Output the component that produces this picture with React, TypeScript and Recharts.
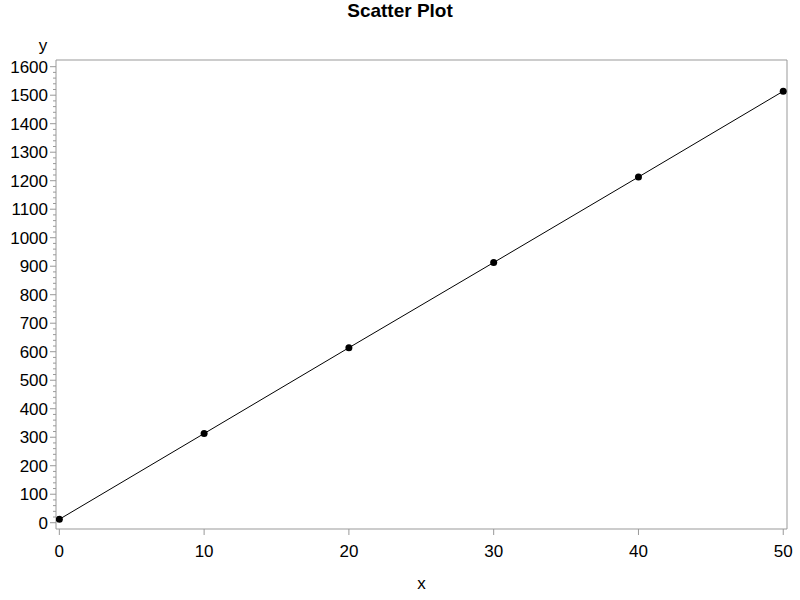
import { ComposedChart, Line, ReferenceArea, XAxis, YAxis } from "recharts";

const xValues = [0, 10, 20, 30, 40, 50];
const yValues = [12, 313, 614, 913, 1213, 1514];
const xTicks = [0, 10, 20, 30, 40, 50];
// majors every 100, minors every 20
const yTicks = Array.from({ length: 81 }, (_, i) => i * 20);

const data = xValues.map((x, i) => ({ x, y: yValues[i] }));

const W = 800;
const H = 600;
const PLOT_LEFT = 56;
const FRAME = "#999";
const FONT = "'Liberation Sans', Arial, sans-serif";
const FS = 17;

function YTick(props: any) {
  const { y, payload } = props;
  const major = payload.value % 100 === 0;
  return (
    <g>
      <line x1={PLOT_LEFT - (major ? 6 : 3)} x2={PLOT_LEFT} y1={y} y2={y} stroke={FRAME} />
      {major && (
        <text x={PLOT_LEFT - 8} y={y} dy="0.355em" textAnchor="end" fontSize={FS} fill="#000" fontFamily={FONT}>
          {payload.value}
        </text>
      )}
    </g>
  );
}

export default function App() {
  return (
    <div style={{ position: "absolute", left: 0, top: 0, width: W, height: H, background: "#fff" }}>
      <div
        style={{
          position: "absolute",
          left: 0,
          top: 1,
          width: W,
          textAlign: "center",
          fontFamily: FONT,
          fontWeight: "bold",
          fontSize: 19,
          lineHeight: "19px",
        }}
      >
        Scatter Plot
      </div>
      <ComposedChart width={W} height={H} data={data} margin={{ top: 60, right: 13, left: 0, bottom: 0 }}>
        <ReferenceArea x1={-0.23} x2={50.26} y1={-22} y2={1623.5} stroke={FRAME} fill="none" strokeOpacity={1} ifOverflow="extendDomain" />
        <XAxis
          type="number"
          dataKey="x"
          domain={[-0.23, 50.26]}
          ticks={xTicks}
          allowDataOverflow
          axisLine={false}
          tickLine={{ stroke: FRAME }}
          tickSize={6}
          tickMargin={10}
          height={71}
          tick={{ fontSize: FS, fill: "#000", fontFamily: FONT }}
          label={{
            content: (p: any) => (
              <text
                x={p.viewBox.x + p.viewBox.width / 2}
                y={589}
                textAnchor="middle"
                fontSize={FS}
                fontFamily={FONT}
                fill="#000"
              >
                x
              </text>
            ),
          }}
        />
        <YAxis
          type="number"
          dataKey="y"
          domain={[-22, 1623.5]}
          ticks={yTicks}
          interval={0}
          allowDataOverflow
          axisLine={false}
          tickLine={false}
          width={56}
          tick={<YTick />}
          label={{
            content: () => (
              <text x={43} y={51} textAnchor="middle" fontSize={FS} fontFamily={FONT} fill="#000">
                y
              </text>
            ),
          }}
        />
        <Line
          type="linear"
          dataKey="y"
          stroke="#000"
          strokeWidth={1}
          dot={{ r: 3.5, fill: "#000", stroke: "#000", strokeWidth: 0 }}
          activeDot={false}
          isAnimationActive={false}
        />
      </ComposedChart>
    </div>
  );
}
